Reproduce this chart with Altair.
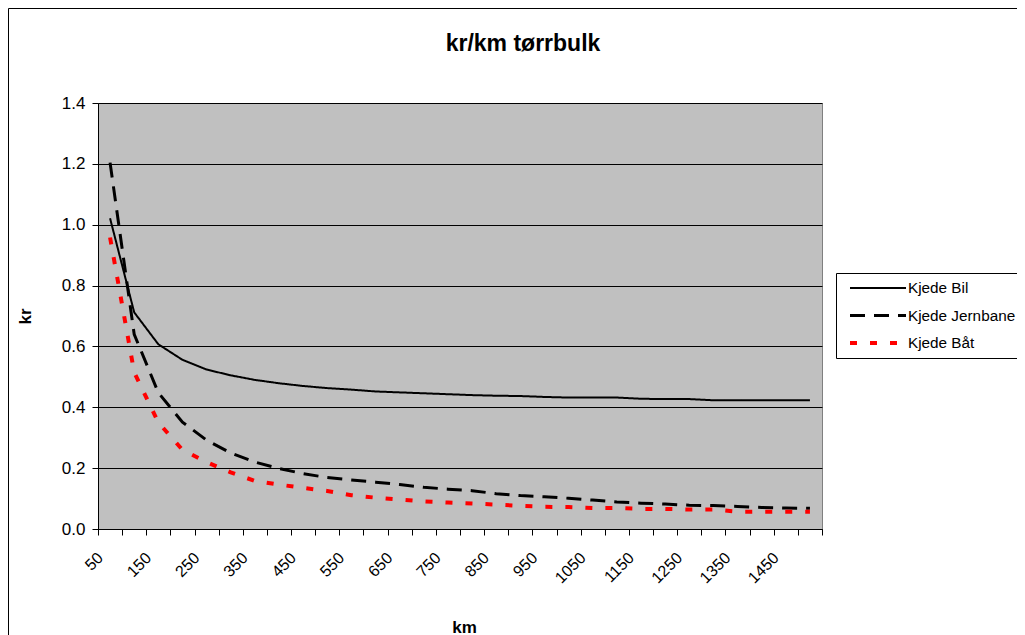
import altair as alt
import pandas as pd

# ---- data ----
km = [50, 100, 150, 200, 250, 300, 350, 400, 450, 500,
      550, 600, 650, 700, 750, 800, 850, 900, 950, 1000,
      1050, 1100, 1150, 1200, 1250, 1300, 1350, 1400, 1450, 1500]

kjede_bil = [1.021, 0.712, 0.607, 0.556, 0.524, 0.505, 0.490, 0.479, 0.470, 0.463,
             0.458, 0.452, 0.449, 0.446, 0.443, 0.440, 0.438, 0.437, 0.434, 0.432,
             0.432, 0.432, 0.428, 0.427, 0.427, 0.423, 0.423, 0.423, 0.423, 0.423]

kjede_jernbane = [1.204, 0.640, 0.448, 0.351, 0.292, 0.250, 0.220, 0.199, 0.182, 0.169,
                  0.161, 0.154, 0.146, 0.137, 0.131, 0.126, 0.116, 0.110, 0.106, 0.101,
                  0.095, 0.089, 0.085, 0.082, 0.078, 0.077, 0.074, 0.071, 0.069, 0.068]

kjede_baat = [0.958, 0.515, 0.350, 0.260, 0.220, 0.186, 0.158, 0.146, 0.135, 0.125,
              0.111, 0.103, 0.097, 0.091, 0.087, 0.084, 0.080, 0.076, 0.073, 0.072,
              0.069, 0.069, 0.066, 0.066, 0.064, 0.064, 0.057, 0.057, 0.057, 0.057]

series = ["Kjede Bil", "Kjede Jernbane", "Kjede Båt"]
series_colors = ["#000000", "#000000", "#FF0000"]
series_dash = [[1, 0], [15, 9], [7, 13]]

x_tick_labels = ["50", "150", "250", "350", "450", "550", "650", "750",
                 "850", "950", "1050", "1150", "1250", "1350", "1450"]
y_ticks = [0.0, 0.2, 0.4, 0.6, 0.8, 1.0, 1.2, 1.4]

# ---- build table ----
rows = []
for name, vals in zip(series, [kjede_bil, kjede_jernbane, kjede_baat]):
    for k, v in zip(km, vals):
        rows.append({"km": k, "kr": v, "serie": name})
df = pd.DataFrame(rows)

half = 25
x_bounds = [k - half for k in km] + [km[-1] + half]
label_expr = ""
for lab in x_tick_labels:
    label_expr += f"datum.value == {int(lab) - half} ? '{lab}' : "
label_expr += "''"

FONT = "Liberation Sans"

legend = alt.Legend(
    title=None, orient="none", legendX=738, legendY=170,
    symbolType="stroke", symbolSize=3136, clipHeight=22,
    padding=4, rowPadding=5.5, symbolOffset=8, labelOffset=0,
    labelFont=FONT, labelFontSize=15.3, labelColor="#000000",
    strokeColor="#000000", fillColor="#FFFFFF",
)

lines = alt.Chart(df).mark_line(strokeCap="butt", clip=True).encode(
    x=alt.X("km:Q",
            scale=alt.Scale(domain=[km[0] - half, km[-1] + half], nice=False, zero=False),
            axis=alt.Axis(values=x_bounds, labelExpr=label_expr, labelAngle=315,
                          labelAlign="right", labelBaseline="middle", labelOffset=2,
                          labelPadding=20, labelOverlap=False, labelFlush=False,
                          labelFontSize=16, grid=False, tickSize=6,
                          title="km", titleX=366, titleY=103, titleAlign="center",
                          titleBaseline="alphabetic", titleFontSize=17)),
    y=alt.Y("kr:Q",
            scale=alt.Scale(domain=[0, 1.4], nice=False),
            axis=alt.Axis(values=y_ticks, format=".1f", grid=True, gridColor="#000000",
                          gridWidth=1, tickSize=6, labelPadding=7, labelFontSize=17,
                          title="kr", titleAngle=270, titleX=-73, titleY=213,
                          titleAlign="center", titleBaseline="middle", titleFontSize=17)),
    color=alt.Color("serie:N", scale=alt.Scale(domain=series, range=series_colors),
                    legend=legend),
    strokeDash=alt.StrokeDash("serie:N", scale=alt.Scale(domain=series, range=series_dash),
                              legend=legend),
    strokeWidth=alt.StrokeWidth("serie:N",
                                scale=alt.Scale(type="point", domain=series, range=[2, 4], padding=0),
                                legend=legend),
)

border = alt.Chart(pd.DataFrame({"a": [0]})).mark_rect(
    filled=False, color="#000000", strokeWidth=1
).encode(
    x=alt.value(-89.5), x2=alt.value(1600), y=alt.value(-94.5), y2=alt.value(1600)
)

chart = alt.layer(border, lines).properties(
    width=724, height=426,
    autosize=alt.AutoSizeParams(type="none"),
    padding={"left": 90, "top": 95, "right": 195, "bottom": 106},
    title=alt.TitleParams("kr/km tørrbulk", font=FONT, fontSize=23, fontWeight="bold",
                          anchor="middle", frame="group", dx=63, offset=0, dy=66,
                          baseline="alphabetic", color="#000000"),
).configure(
    font=FONT, background="#FFFFFF"
).configure_view(
    fill="#C0C0C0", stroke="#808080", strokeWidth=1
).configure_axis(
    domainColor="#000000", tickColor="#000000", labelColor="#000000",
    titleColor="#000000", labelFont=FONT, titleFont=FONT, titleFontWeight="bold",
    domainWidth=1, tickWidth=1
)

chart.save("out.html", embed_options={"renderer": "svg", "actions": False})
